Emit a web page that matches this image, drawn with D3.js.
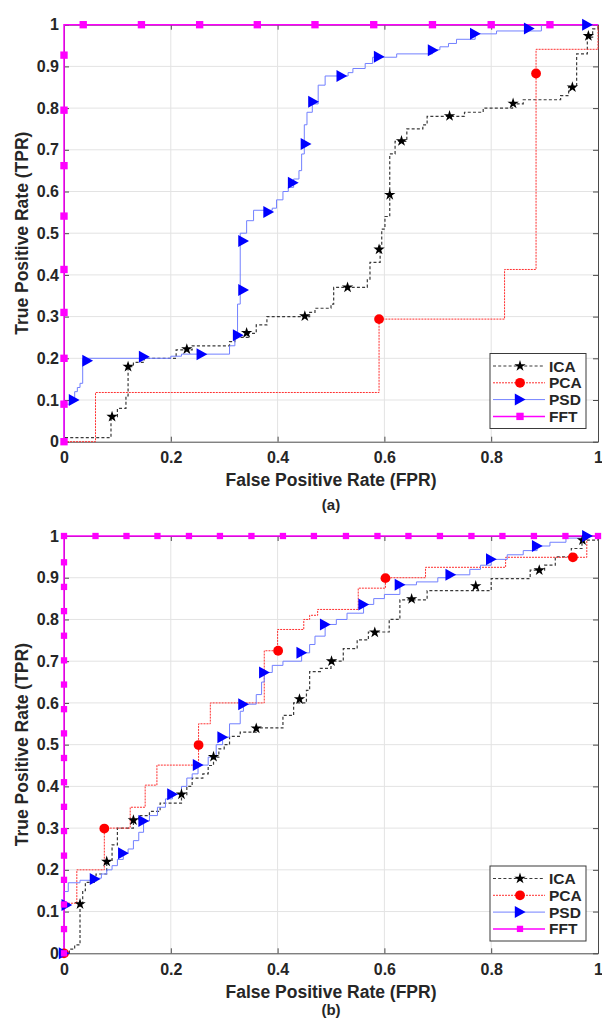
<!DOCTYPE html>
<html>
<head>
<meta charset="utf-8">
<script src="https://cdn.jsdelivr.net/npm/d3@7"></script>
<style>
  html, body { margin: 0; padding: 0; background: #fff; }
  svg { display: block; font-family: "Liberation Sans", Arial, sans-serif; }
</style>
</head>
<body>
<svg id="chart" width="602" height="1026"></svg>
<script>
// ---------- ROC data, panel (a) ----------
// staircase vertices [FPR, TPR]; the path holds TPR until the next FPR, then rises
const icaStepsA = [[0,0],[0,0.01],[0.088,0.06],[0.10,0.08],[0.116,0.11],[0.12,0.18],[0.13,0.19],[0.15,0.2],
  [0.21,0.22],[0.24,0.23],[0.31,0.24],[0.32,0.25],[0.345,0.26],[0.36,0.28],[0.38,0.30],[0.46,0.31],[0.47,0.32],
  [0.50,0.33],[0.505,0.37],[0.568,0.39],[0.573,0.43],[0.592,0.47],[0.595,0.51],[0.601,0.54],[0.61,0.69],
  [0.62,0.72],[0.642,0.75],[0.672,0.76],[0.68,0.78],[0.75,0.79],[0.785,0.80],[0.84,0.81],[0.86,0.82],
  [0.93,0.83],[0.945,0.85],[0.96,0.93],[0.98,0.97],[0.99,0.99],[1,1]];
const icaMarksA = [[0.09,0.06],[0.12,0.18],[0.23,0.222],[0.342,0.261],[0.451,0.301],[0.531,0.37],[0.59,0.461],
  [0.61,0.592],[0.632,0.721],[0.722,0.781],[0.841,0.811],[0.952,0.85],[0.982,0.973]];

const pcaStepsA = [[0,0],[0.059,0.118],[0.59,0.294],[0.825,0.413],[0.884,0.941],[1,1]];
const pcaMarksA = [[0.59,0.294],[0.884,0.883]];

const psdStepsA = [[0,0],[0,0.09],[0.01,0.10],[0.02,0.12],[0.025,0.13],[0.03,0.14],[0.035,0.2],[0.2,0.205],
  [0.22,0.21],[0.31,0.23],[0.32,0.25],[0.325,0.33],[0.33,0.50],[0.342,0.53],[0.355,0.555],[0.39,0.56],
  [0.398,0.58],[0.41,0.60],[0.42,0.61],[0.43,0.63],[0.44,0.65],[0.445,0.69],[0.45,0.76],[0.455,0.79],
  [0.465,0.81],[0.476,0.855],[0.489,0.877],[0.532,0.885],[0.541,0.895],[0.564,0.907],[0.578,0.922],
  [0.623,0.93],[0.69,0.94],[0.704,0.947],[0.72,0.955],[0.735,0.965],[0.77,0.978],[0.81,0.985],[0.894,1],[1,1]];
const psdMarksA = [[0.0187,0.1],[0.044,0.194],[0.15,0.204],[0.258,0.21],[0.326,0.255],[0.336,0.364],
  [0.336,0.481],[0.383,0.551],[0.429,0.621],[0.453,0.714],[0.467,0.815],[0.52,0.877],[0.59,0.923],
  [0.691,0.939],[0.77,0.978],[0.871,0.991],[0.98,1.0]];

const fftStepsA = [[0,0],[0,1],[1,1]];
const fftMarksA = [[0,0],[0,0.09],[0,0.2],[0,0.31],[0,0.413],[0,0.541],[0,0.662],[0,0.795],[0,0.927],
  [0.036,1],[0.145,1],[0.254,1],[0.362,1],[0.47,1],[0.58,1],[0.69,1],[0.80,1],[0.91,1]];

// ---------- ROC data, panel (b) ----------
const icaStepsB = [[0,0],[0.01,0.01],[0.02,0.02],[0.03,0.12],[0.035,0.15],[0.04,0.17],[0.06,0.19],[0.08,0.22],
  [0.09,0.26],[0.1,0.3],[0.13,0.32],[0.14,0.33],[0.16,0.34],[0.18,0.36],[0.22,0.38],[0.23,0.40],[0.24,0.42],
  [0.26,0.43],[0.27,0.45],[0.28,0.47],[0.29,0.49],[0.30,0.50],[0.31,0.52],[0.33,0.53],[0.36,0.54],[0.41,0.57],
  [0.43,0.60],[0.454,0.63],[0.46,0.675],[0.48,0.683],[0.50,0.70],[0.523,0.73],[0.549,0.751],[0.57,0.77],
  [0.609,0.80],[0.629,0.847],[0.68,0.869],[0.80,0.898],[0.873,0.918],[0.90,0.93],[0.92,0.95],[0.95,0.97],
  [0.97,0.99],[1,1]];
const icaMarksB = [[0.03,0.118],[0.08,0.22],[0.13,0.319],[0.22,0.381],[0.28,0.471],[0.36,0.539],[0.441,0.609],
  [0.501,0.70],[0.582,0.769],[0.651,0.849],[0.771,0.88],[0.89,0.918],[0.971,0.99]];

const pcaStepsB = [[0,0],[0,0.12],[0.024,0.2],[0.0755,0.3],[0.124,0.35],[0.152,0.403],[0.174,0.451],
  [0.252,0.55],[0.274,0.60],[0.375,0.725],[0.40,0.776],[0.449,0.80],[0.46,0.81],[0.475,0.824],[0.551,0.875],
  [0.602,0.90],[0.677,0.925],[0.827,0.949],[0.979,1],[1,1]];
const pcaMarksB = [[0,0],[0.0755,0.299],[0.252,0.499],[0.401,0.725],[0.602,0.899],[0.953,0.949]];

const psdStepsB = [[0,0],[0,0.148],[0.008,0.169],[0.03,0.175],[0.06,0.18],[0.07,0.19],[0.08,0.2],[0.09,0.21],
  [0.1,0.225],[0.111,0.24],[0.12,0.25],[0.13,0.27],[0.14,0.29],[0.149,0.317],[0.16,0.33],[0.175,0.35],
  [0.19,0.37],[0.203,0.381],[0.22,0.40],[0.23,0.42],[0.24,0.43],[0.251,0.451],[0.27,0.47],[0.285,0.5],
  [0.297,0.518],[0.31,0.55],[0.33,0.58],[0.336,0.597],[0.36,0.62],[0.37,0.65],[0.375,0.673],[0.39,0.69],
  [0.41,0.70],[0.445,0.72],[0.46,0.74],[0.47,0.76],[0.489,0.788],[0.51,0.80],[0.53,0.815],[0.561,0.836],
  [0.58,0.85],[0.60,0.86],[0.629,0.883],[0.66,0.89],[0.70,0.90],[0.724,0.907],[0.76,0.92],[0.78,0.93],
  [0.80,0.944],[0.83,0.955],[0.86,0.965],[0.886,0.976],[0.91,0.985],[0.94,0.995],[0.98,1],[1,1]];
const psdMarksB = [[0,0],[0.005,0.116],[0.058,0.178],[0.111,0.24],[0.149,0.317],[0.203,0.381],[0.251,0.451],
  [0.297,0.518],[0.336,0.597],[0.375,0.673],[0.445,0.72],[0.489,0.788],[0.561,0.836],[0.629,0.883],
  [0.724,0.907],[0.80,0.944],[0.886,0.976],[0.98,1.0]];

const fftStepsB = [[0,0],[0,1],[1,1]];
const fftMarksB = [[0,0],[0,0.058],[0,0.117],[0,0.176],[0,0.234],[0,0.293],[0,0.351],[0,0.41],[0,0.468],
  [0,0.527],[0,0.585],[0,0.644],[0,0.702],[0,0.761],[0,0.82],[0,0.878],[0,0.937],[0,1],
  [0.059,1],[0.117,1],[0.175,1],[0.234,1],[0.292,1],[0.351,1],[0.41,1],[0.468,1],[0.528,1],[0.587,1],
  [0.645,1],[0.704,1],[0.763,1],[0.821,1],[0.88,1],[0.939,1],[1,1]];

// ---------- labels ----------
const seriesNames = ["ICA", "PCA", "PSD", "FFT"];
const xTicks = [0, 0.2, 0.4, 0.6, 0.8, 1];
const yTicks = [0, 0.1, 0.2, 0.3, 0.4, 0.5, 0.6, 0.7, 0.8, 0.9, 1];
const xTitle = "False Positive Rate (FPR)";
const yTitle = "True Positive Rate (TPR)";
const panelCaptions = ["(a)", "(b)"];

// ---------- styling ----------
const styles = {
  ICA: { stroke: "#3a3a3a", width: 1.2, dash: "3,2.2", fill: "#000", marker: "star" },
  PCA: { stroke: "#ff3030", width: 1, dash: "2,1", fill: "#ff0000", marker: "circle" },
  PSD: { stroke: "#7280ff", width: 1, dash: null, fill: "#0000ff", marker: "triangle" },
  FFT: { stroke: "#ff00ff", width: 1.5, dash: null, fill: "#ff00ff", marker: "square" }
};

const svg = d3.select("#chart");
const textColor = "#262626";
const fmt = d => (d === 0 ? "0" : d === 1 ? "1" : d3.format(".1f")(d));

function drawMarker(g, type, x, y, s) {
  const k = s || 1;
  if (type === "star") {
    g.append("path").attr("d", d3.symbol().type(d3.symbolStar).size(40 * k * k)())
      .attr("transform", `translate(${x},${y})`).attr("fill", styles.ICA.fill);
  } else if (type === "circle") {
    g.append("circle").attr("cx", x).attr("cy", y).attr("r", 4.9 * k).attr("fill", styles.PCA.fill);
  } else if (type === "triangle") {
    g.append("path").attr("d", `M${-5.2 * k},${-6 * k}L${5.6 * k},0L${-5.2 * k},${6 * k}Z`)
      .attr("transform", `translate(${x},${y})`).attr("fill", styles.PSD.fill);
  } else {
    const h = 3.5 * k;
    g.append("rect").attr("x", x - h).attr("y", y - h).attr("width", 2 * h).attr("height", 2 * h)
      .attr("fill", styles.FFT.fill);
  }
}

function panel(cfg) {
  const { top, bottom, left, right, data, caption, legendY, sqScale } = cfg;
  const x = d3.scaleLinear().domain([0, 1]).range([left, right]);
  const y = d3.scaleLinear().domain([0, 1]).range([bottom, top]);
  const g = svg.append("g");

  // grid
  g.append("g").selectAll("line").data(xTicks.slice(1, -1)).join("line")
    .attr("x1", d => x(d)).attr("x2", d => x(d)).attr("y1", top).attr("y2", bottom)
    .attr("stroke", "#e3e3e3").attr("stroke-width", 1);
  g.append("g").selectAll("line").data(yTicks.slice(1, -1)).join("line")
    .attr("y1", d => y(d)).attr("y2", d => y(d)).attr("x1", left).attr("x2", right)
    .attr("stroke", "#e3e3e3").attr("stroke-width", 1);

  // axes with inward ticks on all four sides
  const axB = g.append("g").attr("transform", `translate(0,${bottom})`)
    .call(d3.axisBottom(x).tickValues(xTicks).tickFormat(fmt).tickSizeInner(-5).tickSizeOuter(0).tickPadding(10));
  const axL = g.append("g").attr("transform", `translate(${left},0)`)
    .call(d3.axisLeft(y).tickValues(yTicks).tickFormat(fmt).tickSizeInner(-5).tickSizeOuter(0).tickPadding(5));
  const axT = g.append("g").attr("transform", `translate(0,${top})`)
    .call(d3.axisTop(x).tickValues(xTicks).tickFormat("").tickSizeInner(-5).tickSizeOuter(0));
  const axR = g.append("g").attr("transform", `translate(${right},0)`)
    .call(d3.axisRight(y).tickValues(yTicks).tickFormat("").tickSizeInner(-5).tickSizeOuter(0));
  [axB, axL, axT, axR].forEach(a => {
    a.select(".domain").attr("stroke", "#4a4a4a");
    a.selectAll(".tick line").attr("stroke", "#4a4a4a");
    a.selectAll("text").attr("fill", textColor).style("font-size", "16px").style("font-weight", "bold")
      .style("font-family", "'Liberation Sans', Arial, sans-serif");
  });

  // curves and markers, drawn in legend order
  const line = d3.line().x(d => x(d[0])).y(d => y(d[1])).curve(d3.curveStepAfter);
  seriesNames.forEach(name => {
    const st = styles[name];
    const p = g.append("path").datum(data[name].steps).attr("d", line)
      .attr("fill", "none").attr("stroke", st.stroke).attr("stroke-width", st.width);
    if (st.dash) p.attr("stroke-dasharray", st.dash);
  });
  seriesNames.forEach(name => {
    const st = styles[name];
    const mg = g.append("g");
    data[name].marks.forEach(d => drawMarker(mg, st.marker, x(d[0]), y(d[1]), name === "FFT" ? sqScale : 1));
  });

  // titles
  const mid = (left + right) / 2;
  g.append("text").attr("x", mid).attr("y", bottom + 44.5).attr("text-anchor", "middle")
    .attr("fill", textColor).style("font-size", "17.5px").style("font-weight", "bold").text(xTitle);
  g.append("text").attr("x", mid).attr("y", bottom + cfg.capOffset).attr("text-anchor", "middle")
    .attr("fill", textColor).style("font-size", "15px").style("font-weight", "bold").text(caption);
  g.append("text").attr("transform", `translate(27.5,${(top + bottom) / 2}) rotate(-90)`)
    .attr("text-anchor", "middle").attr("fill", textColor)
    .style("font-size", "17.5px").style("font-weight", "bold").text(yTitle);

  // legend
  const lg = g.append("g").attr("transform", `translate(490,${legendY})`);
  lg.append("rect").attr("x", 0).attr("y", 0).attr("width", 96).attr("height", 75)
    .attr("fill", "#fff").attr("stroke", "#3a3a3a").attr("stroke-width", 1);
  seriesNames.forEach((name, i) => {
    const st = styles[name];
    const ry = 12.5 + i * 16.8;
    const l = lg.append("line").attr("x1", 3).attr("x2", 55).attr("y1", ry).attr("y2", ry)
      .attr("stroke", st.stroke).attr("stroke-width", st.width);
    if (st.dash) l.attr("stroke-dasharray", st.dash);
    drawMarker(lg, st.marker, 30, ry, name === "FFT" ? sqScale : 1);
    lg.append("text").attr("x", 59).attr("y", ry + 5.5).attr("fill", textColor)
      .style("font-size", "15.5px").style("font-weight", "bold").text(name);
  });
}

panel({
  top: 24.7, bottom: 441.7, left: 64, right: 598, caption: panelCaptions[0], legendY: 353.5, sqScale: 1.05,
  capOffset: 68,
  data: {
    ICA: { steps: icaStepsA, marks: icaMarksA },
    PCA: { steps: pcaStepsA, marks: pcaMarksA },
    PSD: { steps: psdStepsA, marks: psdMarksA },
    FFT: { steps: fftStepsA, marks: fftMarksA }
  }
});
panel({
  top: 536, bottom: 953.3, left: 64, right: 598, caption: panelCaptions[1], legendY: 866, sqScale: 0.9,
  capOffset: 62,
  data: {
    ICA: { steps: icaStepsB, marks: icaMarksB },
    PCA: { steps: pcaStepsB, marks: pcaMarksB },
    PSD: { steps: psdStepsB, marks: psdMarksB },
    FFT: { steps: fftStepsB, marks: fftMarksB }
  }
});
</script>
</body>
</html>
